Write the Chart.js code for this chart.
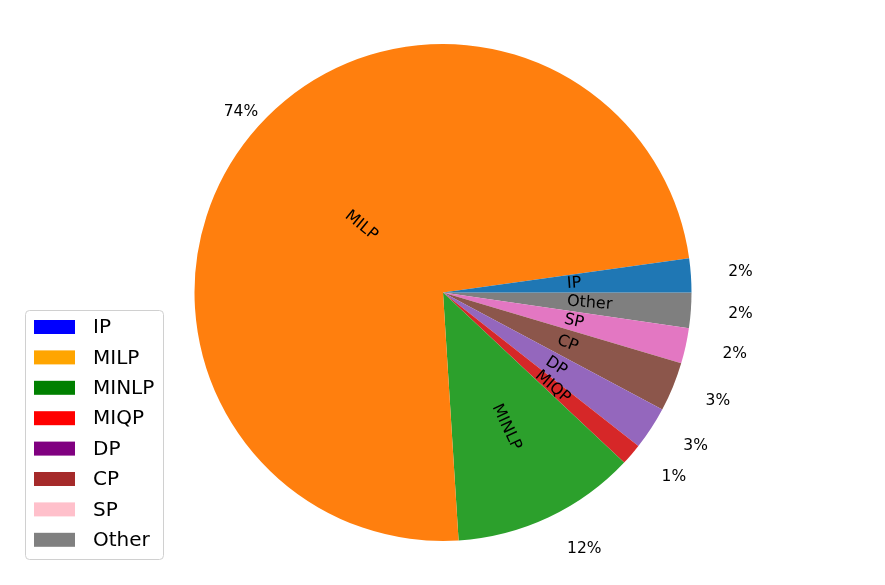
<!DOCTYPE html>
<html>
<head>
<meta charset="utf-8">
<script src="https://cdn.jsdelivr.net/npm/chart.js@4.4.1/dist/chart.umd.min.js"></script>
<style>
  html, body { margin: 0; padding: 0; background: #fff; }
  canvas { display: block; }
</style>
</head>
<body>
<canvas id="chart" width="885" height="585"></canvas>
<script>
// data (percent of total)
var categories = ['IP', 'MILP', 'MINLP', 'MIQP', 'DP', 'CP', 'SP', 'Other'];
var shares = [2.2, 73.8, 12.0, 1.4, 2.8, 3.2, 2.3, 2.3];

// wedge colours (tab10) and the legend patch colours, which differ in the original
var sliceColors = ['#1f77b4', '#ff7f0e', '#2ca02c', '#d62728', '#9467bd', '#8c564b', '#e377c2', '#7f7f7f'];
var legendColors = ['blue', 'orange', 'green', 'red', 'purple', 'brown', 'pink', 'gray'];

var FONT = '"DejaVu Sans", sans-serif';

// wedges run counter-clockwise from 3 o'clock in the original,
// chart.js goes clockwise, so feed it the reversed lists
function rev(a) { return a.slice().reverse(); }

// draws the rotated category names and the percentages
var pieText = {
    id: 'pieText',
    afterDatasetsDraw: function (chart, args, opts) {
        var ctx = chart.ctx;
        var arcs = chart.getDatasetMeta(0).data;
        var n = arcs.length;
        var total = shares.reduce(function (s, v) { return s + v; }, 0);

        ctx.save();
        ctx.fillStyle = '#000';
        for (var j = 0; j < n; j++) {
            var i = n - 1 - j;        // back to original order
            var a = arcs[j];
            var mid = (a.startAngle + a.endAngle) / 2;
            var r = a.outerRadius;

            // category label, rotated along the radius
            var lx = a.x + Math.cos(mid) * r * opts.labelDistance;
            var ly = a.y + Math.sin(mid) * r * opts.labelDistance;
            ctx.save();
            ctx.translate(lx, ly);
            ctx.rotate(Math.cos(mid) >= 0 ? mid : mid + Math.PI);
            ctx.font = opts.labelFont;
            ctx.textAlign = 'left';
            ctx.textBaseline = 'middle';
            ctx.fillText(categories[i], 0, 0);
            ctx.restore();

            // percentage outside the wedge
            var pa = mid - (opts.pctShift[i] || 0) * Math.PI / 180;
            var pd = opts.pctDistance[i];
            var px = a.x + Math.cos(pa) * r * pd;
            var py = a.y + Math.sin(pa) * r * pd;
            ctx.font = opts.pctFont;
            ctx.textAlign = 'center';
            ctx.textBaseline = 'middle';
            ctx.fillText(Math.round(shares[i] / total * 100) + '%', px, py);
        }
        ctx.restore();
    }
};

// matplotlib-like legend box in the lower left
var boxLegend = {
    id: 'boxLegend',
    afterDraw: function (chart, args, opts) {
        var ctx = chart.ctx;
        var x = opts.left, y = opts.top, w = opts.width, h = opts.height, rad = 4;

        ctx.save();
        ctx.beginPath();
        ctx.moveTo(x + rad, y);
        ctx.arcTo(x + w, y, x + w, y + h, rad);
        ctx.arcTo(x + w, y + h, x, y + h, rad);
        ctx.arcTo(x, y + h, x, y, rad);
        ctx.arcTo(x, y, x + w, y, rad);
        ctx.closePath();
        ctx.fillStyle = 'rgba(255,255,255,0.8)';
        ctx.fill();
        ctx.strokeStyle = '#d0d0d0';
        ctx.lineWidth = 1;
        ctx.stroke();

        ctx.font = opts.font;
        ctx.textBaseline = 'middle';
        ctx.textAlign = 'left';
        for (var i = 0; i < categories.length; i++) {
            var cy = opts.firstRow + i * opts.rowStep;
            ctx.fillStyle = legendColors[i];
            ctx.fillRect(34, cy - 7, 41, 14);
            ctx.fillStyle = '#000';
            ctx.fillText(categories[i], 93, cy + 1);
        }
        ctx.restore();
    }
};

new Chart(document.getElementById('chart'), {
    type: 'pie',
    data: {
        labels: rev(categories),
        datasets: [{
            data: rev(shares),
            backgroundColor: rev(sliceColors),
            borderWidth: 0,
            hoverOffset: 0,
            offset: 0
        }]
    },
    options: {
        responsive: false,
        animation: false,
        devicePixelRatio: 1,
        rotation: 90,
        layout: { padding: { top: 44, bottom: 44, left: 194, right: 193 } },
        events: [],
        plugins: {
            legend: { display: false },
            tooltip: { enabled: false },
            pieText: {
                labelDistance: 0.5,
                labelFont: '16px ' + FONT,
                pctFont: '15.5px ' + FONT,
                pctDistance: [1.2, 1.09, 1.18, 1.19, 1.19, 1.19, 1.2, 1.2],
                pctShift: [0, -2.5, 3.6, 2, 1.8, 0.7, 0.5, 0]
            },
            boxLegend: {
                left: 25.5, top: 310.5, width: 138, height: 249,
                firstRow: 327, rowStep: 30.4,
                font: '20px ' + FONT
            }
        }
    },
    plugins: [pieText, boxLegend]
});
</script>
</body>
</html>
